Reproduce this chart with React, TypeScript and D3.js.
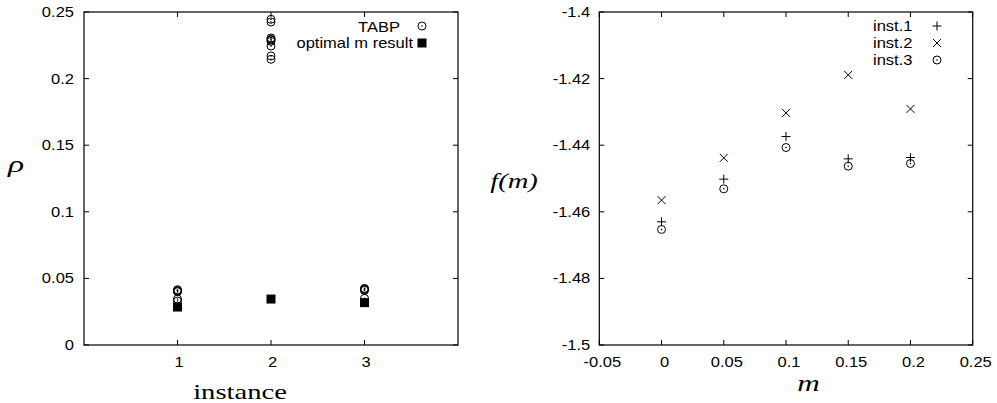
import React from "react";
import * as d3 from "d3";

// ---------- Left panel data ----------
const instances = [1, 2, 3];
const leftXTicks = [1, 2, 3];
const leftYTicks = [0, 0.05, 0.1, 0.15, 0.2, 0.25];
const leftYTickLabels = ["0", "0.05", "0.1", "0.15", "0.2", "0.25"];
const tabp1 = [0.0415, 0.041, 0.0405, 0.04, 0.0345, 0.033];
const tabp2 = [0.2445, 0.2425, 0.2305, 0.2295, 0.229, 0.228, 0.2245, 0.217, 0.2145];
const tabp3 = [0.0425, 0.042, 0.0415, 0.041, 0.035];
const optimalM = [0.0285, 0.0345, 0.0318];

// ---------- Right panel data ----------
const mValues = [0, 0.05, 0.1, 0.15, 0.2];
const inst1 = [-1.463, -1.4502, -1.4374, -1.4441, -1.4437];
const inst2 = [-1.4565, -1.4438, -1.4303, -1.4189, -1.4291];
const inst3 = [-1.4653, -1.4531, -1.4407, -1.4463, -1.4455];
const rightXTicks = [-0.05, 0, 0.05, 0.1, 0.15, 0.2, 0.25];
const rightXTickLabels = ["-0.05", "0", "0.05", "0.1", "0.15", "0.2", "0.25"];
const rightYTicks = [-1.5, -1.48, -1.46, -1.44, -1.42, -1.4];
const rightYTickLabels = ["-1.5", "-1.48", "-1.46", "-1.44", "-1.42", "-1.4"];

const SANS = "Liberation Sans";
const SERIF = "Liberation Serif";
const SX = 1.18;
const FS = 14;

function T({ x, y, anchor = "start", children, size = FS, sx = SX, family = SANS, italic = false }: any) {
  return (
    <text
      transform={`translate(${x},${y}) scale(${sx},1)`}
      textAnchor={anchor}
      fontFamily={family}
      fontSize={size}
      fontStyle={italic ? "italic" : "normal"}
      fontWeight="normal"
      fill="#000"
    >
      {children}
    </text>
  );
}

function CircleDot({ cx, cy }: any) {
  return (
    <g>
      <circle cx={cx} cy={cy} r={4} fill="none" stroke="#000" strokeWidth={1} />
      <circle cx={cx} cy={cy} r={0.8} fill="#000" />
    </g>
  );
}
function Plus({ cx, cy }: any) {
  return (
    <path d={`M${cx - 4.5},${cy}H${cx + 4.5}M${cx},${cy - 4.5}V${cy + 4.5}`} stroke="#000" strokeWidth={1} />
  );
}
function Cross({ cx, cy }: any) {
  return (
    <path
      d={`M${cx - 4},${cy - 4}L${cx + 4},${cy + 4}M${cx - 4},${cy + 4}L${cx + 4},${cy - 4}`}
      stroke="#000"
      strokeWidth={1}
    />
  );
}
function Square({ cx, cy }: any) {
  return <rect x={cx - 4.5} y={cy - 4.5} width={9} height={9} fill="#000" />;
}

const TICK = 5;

export default function App() {
  // left scales
  const lx = d3.scaleLinear().domain([0, 4]).range([84, 458]);
  const ly = d3.scaleLinear().domain([0, 0.25]).range([345, 12]);
  // right scales
  const rx = d3.scaleLinear().domain([-0.05, 0.25]).range([599.3, 972.7]);
  const ry = d3.scaleLinear().domain([-1.5, -1.4]).range([345, 12]);

  const tabpAll = [tabp1, tabp2, tabp3];

  const frame = (x0: number, x1: number, y0: number, y1: number) => (
    <rect x={x0} y={y0} width={x1 - x0} height={y1 - y0} fill="none" stroke="#000" strokeWidth={1.2} />
  );

  return (
    <svg width={997} height={403} style={{ position: "absolute", left: 0, top: 0, background: "#fff" }}>
      <rect width={997} height={403} fill="#fff" />
      {/* ---------- LEFT PANEL ---------- */}
      <g>
        {leftYTicks.map((t, i) => (
          <g key={"ly" + i}>
            <line x1={lx(0)} x2={lx(0) + TICK} y1={ly(t)} y2={ly(t)} stroke="#000" />
            <line x1={lx(4)} x2={lx(4) - TICK} y1={ly(t)} y2={ly(t)} stroke="#000" />
            <T x={lx(0) - 10} y={ly(t) + 5} anchor="end">{leftYTickLabels[i]}</T>
          </g>
        ))}
        {leftXTicks.map((t, i) => (
          <g key={"lx" + i}>
            <line x1={lx(t)} x2={lx(t)} y1={ly(0)} y2={ly(0) - TICK} stroke="#000" />
            <line x1={lx(t)} x2={lx(t)} y1={ly(0.25)} y2={ly(0.25) + TICK} stroke="#000" />
            <T x={lx(t) + 1.5} y={367} anchor="middle">{String(t)}</T>
          </g>
        ))}
        {frame(lx(0), lx(4), ly(0.25), ly(0))}
        {tabpAll.map((arr, k) =>
          arr.map((v, j) => <CircleDot key={`t${k}-${j}`} cx={lx(instances[k])} cy={ly(v)} />)
        )}
        {optimalM.map((v, k) => (
          <Square key={"sq" + k} cx={lx(instances[k])} cy={ly(v)} />
        ))}
        {/* legend */}
        <T x={400} y={32} anchor="end">TABP</T>
        <CircleDot cx={422} cy={26} />
        <T x={413} y={48} anchor="end">optimal m result</T>
        <Square cx={422} cy={43} />
        {/* axis labels */}
        <T x={16} y={172} anchor="middle" family={SERIF} size={24} sx={1.4} italic>ρ</T>
        <T x={240} y={399} anchor="middle" family={SERIF} size={22} sx={1.3}>instance</T>
      </g>

      {/* ---------- RIGHT PANEL ---------- */}
      <g>
        {rightYTicks.map((t, i) => (
          <g key={"ry" + i}>
            <line x1={rx(-0.05)} x2={rx(-0.05) + TICK} y1={ry(t)} y2={ry(t)} stroke="#000" />
            <line x1={rx(0.25)} x2={rx(0.25) - TICK} y1={ry(t)} y2={ry(t)} stroke="#000" />
            <T x={rx(-0.05) - 9} y={ry(t) + 5} anchor="end">{rightYTickLabels[i]}</T>
          </g>
        ))}
        {rightXTicks.map((t, i) => (
          <g key={"rx" + i}>
            <line x1={rx(t)} x2={rx(t)} y1={ry(-1.5)} y2={ry(-1.5) - TICK} stroke="#000" />
            <line x1={rx(t)} x2={rx(t)} y1={ry(-1.4)} y2={ry(-1.4) + TICK} stroke="#000" />
            <T x={rx(t) + 3} y={367} anchor="middle">{rightXTickLabels[i]}</T>
          </g>
        ))}
        {frame(rx(-0.05), rx(0.25), ry(-1.4), ry(-1.5))}
        {mValues.map((m, i) => (
          <g key={"pt" + i}>
            <Plus cx={rx(m)} cy={ry(inst1[i])} />
            <Cross cx={rx(m)} cy={ry(inst2[i])} />
            <CircleDot cx={rx(m)} cy={ry(inst3[i])} />
          </g>
        ))}
        {/* legend */}
        <T x={873} y={31}>inst.1</T>
        <Plus cx={937} cy={26} />
        <T x={873} y={47.5}>inst.2</T>
        <Cross cx={937} cy={43} />
        <T x={873} y={65}>inst.3</T>
        <CircleDot cx={937} cy={60} />
        {/* axis labels */}
        <T x={514} y={188} anchor="middle" family={SERIF} size={22} sx={1.3} italic>f(m)</T>
        <T x={808.5} y={391} anchor="middle" family={SERIF} size={24} sx={1.3} italic>m</T>
      </g>
    </svg>
  );
}
